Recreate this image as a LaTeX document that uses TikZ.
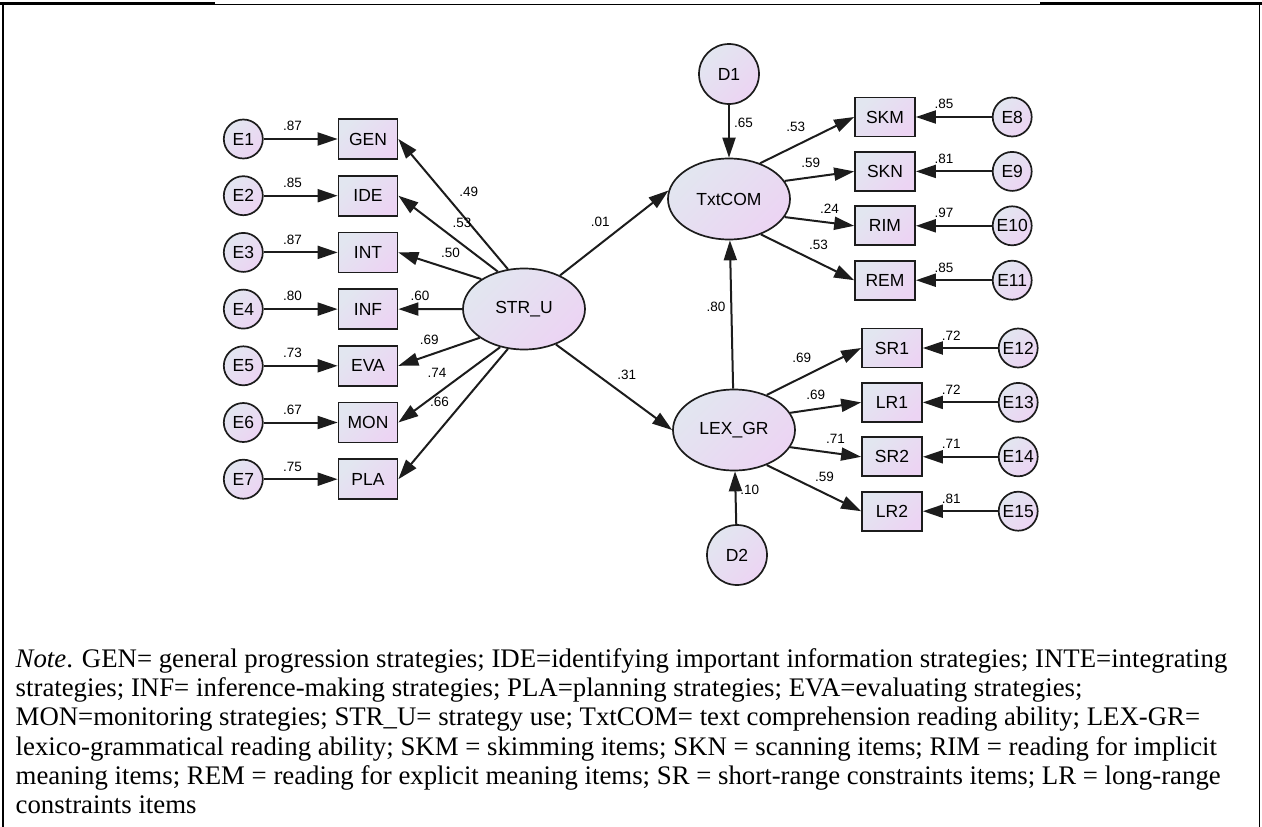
\documentclass[tikz,border=0pt]{standalone}
\usepackage{fontspec}
\setmainfont{Liberation Serif}
\newfontfamily\semfont{Liberation Sans}
\usetikzlibrary{arrows.meta,positioning,shapes.geometric}

\definecolor{semblue}{RGB}{226,230,240}
\definecolor{semlilac}{RGB}{236,212,243}
\definecolor{semline}{RGB}{28,28,28}

\begin{document}
\begin{tikzpicture}[x=1pt, y=-1pt,
    node distance=15pt and 74pt,
    fillgrad/.style={top color=semblue, bottom color=semlilac, shading angle=45},
    latent/.style={draw=semline, line width=1.7pt, ellipse, fillgrad, minimum width=122pt, minimum height=81pt, inner sep=0pt, font=\semfont\fontsize{17.5}{19}\selectfont},
    indic/.style={draw=semline, line width=1.7pt, rectangle, fillgrad, minimum width=59pt, minimum height=40pt, inner sep=0pt, font=\semfont\fontsize{17.5}{19}\selectfont},
    errc/.style={draw=semline, line width=1.7pt, circle, fillgrad, minimum size=39pt, inner sep=0pt, font=\semfont\fontsize{17.5}{19}\selectfont},
    dist/.style={errc, minimum size=60pt},
    arr/.style={-{Triangle[length=20pt,width=13pt]}, line width=2pt, draw=semline},
    lab/.style={font=\semfont\fontsize{13.5}{13.5}\selectfont, inner sep=1pt},
    note/.style={font=\fontsize{26.8}{29.2}\selectfont, inner sep=0pt, align=left, anchor=north west}
]
\useasboundingbox (0,0) rectangle (1262,827);

% frame
\draw[line width=1pt] (3,4.5) -- (1259,4.5);
\draw[line width=2.5pt] (0,3.5) -- (215,3.5);
\draw[line width=2.5pt] (1040,3.5) -- (1262,3.5);
\draw[line width=1.5pt] (3,3) -- (3,827);
\draw[line width=1.5pt] (1259.5,3) -- (1259.5,827);

% latent variables
\node[latent] (STRU) at (524,309) {STR\_U};
\node[latent] (TxtCOM) at (729,199) {TxtCOM};
\node[latent] (LEXGR) at (734,430) {LEX\_GR};
\node[dist] (D1) at (729,74) {D1};
\node[dist] (D2) at (737,555) {D2};

% strategy indicators
\node[indic] (GEN) at (368,139) {GEN};
\node[indic, below=of GEN] (IDE) {IDE};
\node[indic, below=of IDE] (INT) {INT};
\node[indic, below=of INT] (INF) {INF};
\node[indic, below=of INF] (EVA) {EVA};
\node[indic, below=of EVA] (MON) {MON};
\node[indic, below=of MON] (PLA) {PLA};
\node[errc, left=of GEN] (E1) {E1};
\node[errc, left=of IDE] (E2) {E2};
\node[errc, left=of INT] (E3) {E3};
\node[errc, left=of INF] (E4) {E4};
\node[errc, left=of EVA] (E5) {E5};
\node[errc, left=of MON] (E6) {E6};
\node[errc, left=of PLA] (E7) {E7};

% text comprehension indicators
\node[indic, minimum width=60pt, minimum height=39pt] (SKM) at (885,117) {SKM};
\node[indic, minimum width=60pt, minimum height=39pt, below=13.7pt of SKM] (SKN) {SKN};
\node[indic, minimum width=60pt, minimum height=39pt, below=13.7pt of SKN] (RIM) {RIM};
\node[indic, minimum width=60pt, minimum height=39pt, below=13.7pt of RIM] (REM) {REM};
\node[errc, right=76pt of SKM] (E8) {E8};
\node[errc, right=76pt of SKN] (E9) {E9};
\node[errc, right=76pt of RIM] (E10) {E10};
\node[errc, right=76pt of REM] (E11) {E11};

% lexico-grammatical indicators
\node[indic, minimum width=60pt, minimum height=39pt] (SR1) at (892,348) {SR1};
\node[indic, minimum width=60pt, minimum height=39pt, below=13.7pt of SR1] (LR1) {LR1};
\node[indic, minimum width=60pt, minimum height=39pt, below=13.7pt of LR1] (SR2) {SR2};
\node[indic, minimum width=60pt, minimum height=39pt, below=13.7pt of SR2] (LR2) {LR2};
\node[errc, right=75pt of SR1] (E12) {E12};
\node[errc, right=75pt of LR1] (E13) {E13};
\node[errc, right=75pt of SR2] (E14) {E14};
\node[errc, right=75pt of LR2] (E15) {E15};

% error paths
\draw[arr] (E1) -- node[lab, pos=0.39, above=6pt] {.87} (GEN);
\draw[arr] (E2) -- node[lab, pos=0.39, above=6pt] {.85} (IDE);
\draw[arr] (E3) -- node[lab, pos=0.39, above=6pt] {.87} (INT);
\draw[arr] (E4) -- node[lab, pos=0.39, above=6pt] {.80} (INF);
\draw[arr] (E5) -- node[lab, pos=0.39, above=6pt] {.73} (EVA);
\draw[arr] (E6) -- node[lab, pos=0.39, above=6pt] {.67} (MON);
\draw[arr] (E7) -- node[lab, pos=0.39, above=6pt] {.75} (PLA);
\draw[arr] (E8) -- node[lab, pos=0.63, above=6pt] {.85} (SKM);
\draw[arr] (E9) -- node[lab, pos=0.63, above=6pt] {.81} (SKN);
\draw[arr] (E10) -- node[lab, pos=0.63, above=6pt] {.97} (RIM);
\draw[arr] (E11) -- node[lab, pos=0.63, above=6pt] {.85} (REM);
\draw[arr] (E12) -- node[lab, pos=0.62, above=6pt] {.72} (SR1);
\draw[arr] (E13) -- node[lab, pos=0.62, above=6pt] {.72} (LR1);
\draw[arr] (E14) -- node[lab, pos=0.62, above=6pt] {.71} (SR2);
\draw[arr] (E15) -- node[lab, pos=0.62, above=6pt] {.81} (LR2);

% loadings of strategy use
\draw[arr] (STRU.112) -- node[lab, pos=0.59, right=14pt] {.49} (GEN.east);
\draw[arr] (STRU.125) -- node[lab, pos=0.36, above=15pt] {.53} (IDE.east);
\draw[arr] (STRU.145) -- node[lab, pos=0.37, above=10pt] {.50} (INT.east);
\draw[arr] (STRU.180) -- node[lab, pos=0.66, above=6pt] {.60} (INF.east);
\draw[arr] (STRU.213) -- node[lab, pos=0.62, above=9pt] {.69} (EVA.east);
\draw[arr] (STRU.238) -- node[lab, pos=0.62, above=14pt] {.74} (MON.east);
\draw[arr] (STRU.248) -- node[lab, pos=0.41, left=12pt] {.66} (PLA.east);

% structural paths
\draw[arr] (STRU.43) -- node[lab, pos=0.37, above=15pt] {.01} (TxtCOM.172);
\draw[arr] (STRU.-48) -- node[lab, pos=0.61, above=15pt] {.31} (LEXGR.west);
\draw[arr] (LEXGR) -- node[lab, pos=0.55, left=4pt] {.80} (TxtCOM);
\draw[arr] (D1) -- node[lab, pos=0.35, right=3pt] {.65} (TxtCOM);
\draw[arr] (D2) -- node[lab, pos=0.65, right=3pt] {.10} (LEXGR);

% loadings of reading ability
\draw[arr] (TxtCOM.49) -- node[lab, pos=0.38, above=12pt] {.53} (SKM.west);
\draw[arr] (TxtCOM.18) -- node[lab, pos=0.375, above=8pt] {.59} (SKN.west);
\draw[arr] (TxtCOM.-18) -- node[lab, pos=0.645, above=7pt] {.24} (RIM.west);
\draw[arr] (TxtCOM.-48) -- node[lab, pos=0.618, above=11pt] {.53} (REM.west);
\draw[arr] (LEXGR.47) -- node[lab, pos=0.372, above=13pt] {.69} (SR1.west);
\draw[arr] (LEXGR.17) -- node[lab, pos=0.36, above=7.5pt] {.69} (LR1.west);
\draw[arr] (LEXGR.-17) -- node[lab, pos=0.637, above=7.5pt] {.71} (SR2.west);
\draw[arr] (LEXGR.-47) -- node[lab, pos=0.613, above=10pt] {.59} (LR2.west);

% note
\node[note] (notetext) at (15.5,648.4) {\textit{Note}. GEN= general progression strategies; IDE=identifying important information strategies; INTE=integrating\\
strategies; INF= inference-making strategies; PLA=planning strategies; EVA=evaluating strategies;\\
MON=monitoring strategies; STR\_U= strategy use; TxtCOM= text comprehension reading ability; LEX-GR=\\
lexico-grammatical reading ability; SKM = skimming items; SKN = scanning items; RIM = reading for implicit\\
meaning items; REM = reading for explicit meaning items; SR = short-range constraints items; LR = long-range\\
constraints items};
\end{tikzpicture}
\end{document}
